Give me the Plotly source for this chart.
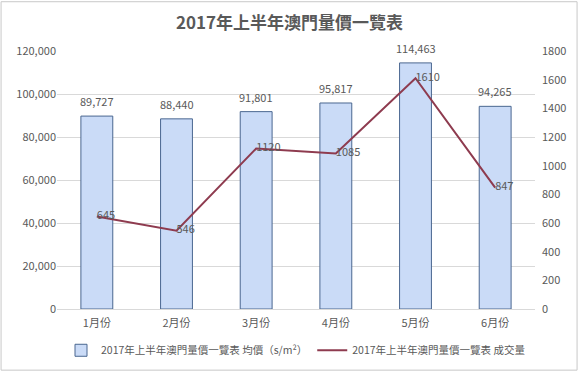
import plotly.graph_objects as go

months = ["1月份", "2月份", "3月份", "4月份", "5月份", "6月份"]
avg_price = [89727, 88440, 91801, 95817, 114463, 94265]
volume = [645, 546, 1120, 1085, 1610, 847]
left_ticks = [0, 20000, 40000, 60000, 80000, 100000, 120000]
right_ticks = [0, 200, 400, 600, 800, 1000, 1200, 1400, 1600, 1800]

FONT = "Noto Sans CJK TC, Noto Sans, sans-serif"
GRAY = "#595959"

fig = go.Figure()
fig.add_trace(go.Bar(
    x=months, y=avg_price,
    name="2017年上半年澳門量價一覽表 均價（s/m²）",
    marker=dict(color="#cadbf7", line=dict(color="#4a6790", width=1)),
))
fig.add_trace(go.Scatter(
    x=months, y=volume, yaxis="y2", mode="lines+text",
    name="2017年上半年澳門量價一覽表 成交量",
    line=dict(color="#8e3b4f", width=2),
    text=[str(v) for v in volume], textposition="middle right",
    textfont=dict(size=11, color=GRAY), cliponaxis=False,
))

annotations = [
    dict(x=m, y=v, xref="x", yref="y", text=f"{v:,}", showarrow=False,
         yshift=15, font=dict(size=11, color=GRAY))
    for m, v in zip(months, avg_price)
]

fig.update_layout(
    width=579, height=377,
    margin=dict(l=57, r=44, t=51, b=64),
    paper_bgcolor="white", plot_bgcolor="white",
    font=dict(family=FONT, size=11, color=GRAY),
    title=dict(text="<b>2017年上半年澳門量價一覽表</b>", x=0.5, xanchor="center",
               y=0.94, yanchor="middle", font=dict(size=17, color=GRAY, family=FONT)),
    bargap=0.6,
    showlegend=True,
    legend=dict(orientation="h", x=0.5, xanchor="center", y=-0.16, yanchor="middle",
                font=dict(size=10.5, color=GRAY), bgcolor="rgba(0,0,0,0)",
                itemwidth=30, tracegroupgap=0),
    xaxis=dict(showline=True, linecolor="#d9d9d9", ticks="", automargin=False,
               ticklabelstandoff=4, tickfont=dict(size=11, color=GRAY)),
    yaxis=dict(range=[0, 120000], tickvals=left_ticks,
               ticktext=[f"{v:,}" for v in left_ticks], automargin=False,
               showgrid=True, gridcolor="#d9d9d9", zeroline=False,
               tickfont=dict(size=11, color=GRAY), ticks=""),
    yaxis2=dict(range=[0, 1800], tickvals=right_ticks, overlaying="y", side="right",
                automargin=False, ticklabelstandoff=6,
                showgrid=False, zeroline=False, tickfont=dict(size=11, color=GRAY)),
    annotations=annotations,
    shapes=[dict(type="rect", xref="paper", yref="paper", x0=-0.117, x1=1.088,
                 y0=-0.237, y1=1.191, line=dict(color="#c8c8c8", width=1))],
)

fig.write_html("out.html", config={"displayModeBar": False},
               post_script="document.body.style.margin='0';")
